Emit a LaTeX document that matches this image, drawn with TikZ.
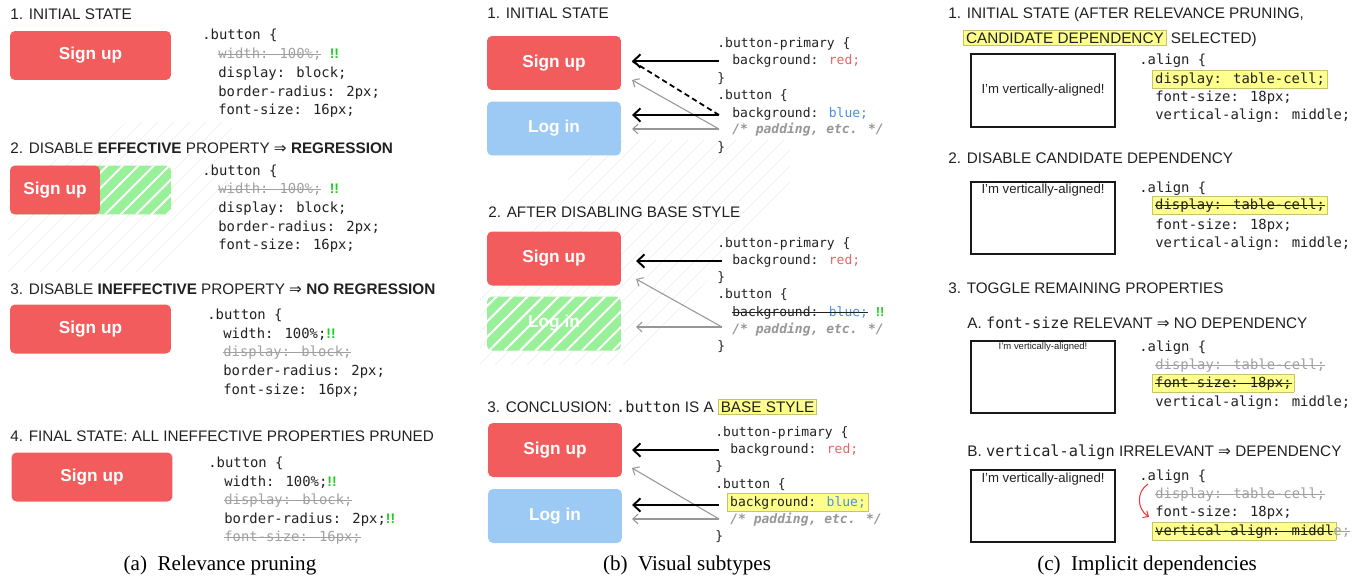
\documentclass[tikz,border=0pt]{standalone}
\usepackage{fontspec}
\setmainfont{Liberation Serif}
\newfontfamily\uisf{Liberation Sans}
\newfontfamily\codett{DejaVu Sans Mono}
\newfontfamily\symf{DejaVu Sans}
\usetikzlibrary{arrows.meta}

\definecolor{btnred}{RGB}{242,92,92}
\definecolor{btnblue}{RGB}{157,202,245}
\definecolor{hatchgreen}{RGB}{152,240,152}
\definecolor{hlyellow}{RGB}{255,255,140}
\definecolor{hlline}{RGB}{196,196,110}
\definecolor{okgreen}{RGB}{30,205,30}
\definecolor{cred}{RGB}{232,100,100}
\definecolor{cblue}{RGB}{74,144,226}
\definecolor{offgray}{RGB}{160,160,160}
\definecolor{arrgray}{RGB}{150,150,150}
\definecolor{deprd}{RGB}{230,60,60}

\newcommand{\strk}[1]{\sbox0{#1}\rlap{\usebox0}\rule[.25em]{\wd0}{.5pt}}
\newcommand{\ok}{{\uisf\bfseries\color{okgreen}!!}}
\newcommand{\imp}{{\symf ⇒}}
\newcommand{\hlt}[1]{{\setlength{\fboxsep}{1.2pt}\setlength{\fboxrule}{.4pt}\fcolorbox{hlline}{hlyellow}{#1}}}

\tikzset{
  ttl/.style={anchor=base west, inner sep=0, text=black!87, font=\uisf\fontsize{8.7}{10}\selectfont},
  code/.style={anchor=base west, inner sep=0, text=black!87, font=\codett\fontsize{7.9}{9}\selectfont},
  off/.style={code, text=offgray},
  cmt/.style={code, text=arrgray, font=\codett\bfseries\itshape\fontsize{7.9}{9}\selectfont},
  btn/.style={rounded corners=0.1cm, inner sep=0, text=white, font=\uisf\bfseries\fontsize{9.8}{11}\selectfont},
  wide/.style={minimum width=3.22cm, minimum height=0.98cm},
  tall/.style={minimum width=2.68cm, minimum height=1.08cm},
  hatched/.style={fill=hatchgreen, path picture={
      \foreach \k in {0,...,20}
        \draw[white, line width=1.2pt] ([xshift=\k*0.31cm-1.2cm]path picture bounding box.south west) -- ++(1.6cm,1.6cm);}},
  barrow/.style={line width=1.1pt, -{Straight Barb[length=4pt,width=7.5pt]}},
  garrow/.style={arrgray, line width=.6pt, -{Straight Barb[length=3pt,width=5.5pt]}},
  dep/.style={line width=1pt, dash pattern=on 3pt off 2pt},
  deparrow/.style={deprd, line width=.6pt, -{Straight Barb[length=2.5pt,width=4.5pt]}},
  valbox/.style={draw=black!90, line width=1.1pt},
  vtxt/.style={inner sep=0, text=black!87, font=\uisf\fontsize{7.5}{9}\selectfont},
  subcap/.style={anchor=base, inner sep=0, font=\fontsize{12}{14}\selectfont},
  faint/.style={black!7, line width=.35pt}
}

\begin{document}
\begin{tikzpicture}[x=0.02cm, y=-0.02cm]
\useasboundingbox (0,0) rectangle (1364,578);

%% faint background stripes
\begin{scope}
  \clip (8,272) -- (8,178) -- (128,122) -- (232,122) -- (232,196) -- (158,272) -- cycle;
  \foreach \k in {0,...,24} \draw[faint] (\k*16-180,300) -- ++(240,-240);
\end{scope}
\begin{scope}
  \clip (480,365) -- (480,290) -- (600,140) -- (790,140) -- (790,190) -- (630,365) -- cycle;
  \foreach \k in {0,...,34} \draw[faint] (\k*16+220,400) -- ++(270,-270);
\end{scope}

%%%% (a) relevance pruning
\node[ttl] (ta1) at (10,19) {1. INITIAL STATE};
\node[btn, wide, fill=btnred] (sua1) at (90.5,55.5) {Sign up};
\node[code] (ca1) at (202,39) {.button \{};
\node[off]  (ca1w) at (218,58) {\strk{width: 100\%;} \ok};
\node[code] (ca1d) at (218,77) {display: block;};
\node[code] (ca1b) at (218,96) {border-radius: 2px;};
\node[code] (ca1f) at (218,114) {font-size: 16px;};

\node[ttl] (ta2) at (10,153) {2. DISABLE \textbf{EFFECTIVE} PROPERTY \imp{} \textbf{REGRESSION}};
\node[btn, wide, hatched] (gra2) at (90.5,190) {};
\node[btn, fill=btnred, minimum width=1.8cm, minimum height=0.98cm] (sua2) at (55,190) {Sign up};
\node[code] (ca2) at (202,175) {.button \{};
\node[off]  (ca2w) at (218,193) {\strk{width: 100\%;} \ok};
\node[code] (ca2d) at (218,212) {display: block;};
\node[code] (ca2b) at (218,231) {border-radius: 2px;};
\node[code] (ca2f) at (218,249) {font-size: 16px;};

\node[ttl] (ta3) at (10,294) {3. DISABLE \textbf{INEFFECTIVE} PROPERTY \imp{} \textbf{NO REGRESSION}};
\node[btn, wide, fill=btnred] (sua3) at (90.5,329) {Sign up};
\node[code] (ca3) at (207,319) {.button \{};
\node[code] (ca3w) at (223,338) {width: 100\%;\ok};
\node[off]  (ca3d) at (223,356) {\strk{display: block;}};
\node[code] (ca3b) at (223,375) {border-radius: 2px;};
\node[code] (ca3f) at (223,394) {font-size: 16px;};

\node[ttl] (ta4) at (10,441) {4. FINAL STATE: ALL INEFFECTIVE PROPERTIES PRUNED};
\node[btn, wide, fill=btnred] (sua4) at (92,477) {Sign up};
\node[code] (ca4) at (208,467) {.button \{};
\node[code] (ca4w) at (224,486) {width: 100\%;\ok};
\node[off]  (ca4d) at (224,504) {\strk{display: block;}};
\node[code] (ca4b) at (224,523) {border-radius: 2px;\ok};
\node[off]  (ca4f) at (224,541) {\strk{font-size: 16px;}};

\node[subcap] (capa) at (220,570) {(a)\enspace Relevance pruning};

%%%% (b) visual subtypes
\begin{scope}[code/.append style={font=\codett\fontsize{7.4}{9}\selectfont},
              cmt/.append style={font=\codett\bfseries\itshape\fontsize{7.4}{9}\selectfont}]
\node[ttl] (tb1) at (487,18) {1. INITIAL STATE};
\node[btn, tall, fill=btnred] (sub1) at (554,63) {Sign up};
\node[btn, tall, fill=btnblue] (lib1) at (554,128.5) {Log in};
\node[code] (cb1p) at (717,47) {.button-primary \{};
\node[code] (cb1r) at (732,64) {background: \textcolor{cred}{red;}};
\node[code] (cb1e) at (717,82) {\}};
\node[code] (cb1b) at (717,99) {.button \{};
\node[code] (cb1u) at (732,117) {background: \textcolor{cblue}{blue;}};
\node[cmt]  (cb1c) at (732,133) {/* padding, etc. */};
\node[code] (cb1z) at (717,151) {\}};
\coordinate (s1red) at (719,61);   \coordinate (t1red) at (632,61);
\coordinate (s1blu) at (719,115);  \coordinate (t1blu) at (632,115);
\coordinate (s1pad) at (719,129);  \coordinate (t1pad) at (632,129);
\coordinate (t1top) at (632,80);
\draw[garrow] (s1pad) -- (t1top);
\draw[garrow] (s1pad) -- (t1pad);
\draw[dep] (s1blu) -- (t1red);
\draw[barrow] (s1red) -- (t1red);
\draw[barrow] (s1blu) -- (t1blu);

\node[ttl] (tb2) at (488,217) {2. AFTER DISABLING BASE STYLE};
\node[btn, tall, fill=btnred] (sub2) at (554,258.5) {Sign up};
\node[btn, tall, hatched] (lib2) at (554,323.5) {Log in};
\node[code] (cb2p) at (717,247) {.button-primary \{};
\node[code] (cb2r) at (732,264) {background: \textcolor{cred}{red;}};
\node[code] (cb2e) at (717,281) {\}};
\node[code] (cb2b) at (717,298) {.button \{};
\node[code] (cb2u) at (732,316) {\strk{background: \textcolor{cblue}{blue;}} \ok};
\node[cmt]  (cb2c) at (732,333) {/* padding, etc. */};
\node[code] (cb2z) at (717,350) {\}};
\coordinate (s2red) at (722,261);  \coordinate (t2red) at (636,261);
\coordinate (s2pad) at (722,327);  \coordinate (t2pad) at (636,327);
\coordinate (t2top) at (636,279);
\draw[garrow] (s2pad) -- (t2top);
\draw[garrow] (s2pad) -- (t2pad);
\draw[barrow] (s2red) -- (t2red);

\node[ttl] (tb3) at (487,412) {3. CONCLUSION: {\codett .button} IS A \hlt{BASE STYLE}};
\node[btn, tall, fill=btnred] (sub3) at (555,450) {Sign up};
\node[btn, tall, fill=btnblue] (lib3) at (555,516) {Log in};
\node[code] (cb3p) at (715,436) {.button-primary \{};
\node[code] (cb3r) at (730,453) {background: \textcolor{cred}{red;}};
\node[code] (cb3e) at (715,470) {\}};
\node[code] (cb3b) at (715,488) {.button \{};
\node[code] (cb3u) at (727,506) {\hlt{background: \textcolor{cblue}{blue;}}};
\node[cmt]  (cb3c) at (730,523) {/* padding, etc. */};
\node[code] (cb3z) at (715,540) {\}};
\coordinate (s3red) at (719,450);  \coordinate (t3red) at (632,450);
\coordinate (s3blu) at (719,505);  \coordinate (t3blu) at (632,505);
\coordinate (s3pad) at (719,519);  \coordinate (t3pad) at (632,519);
\coordinate (t3top) at (632,468);
\draw[garrow] (s3pad) -- (t3top);
\draw[garrow] (s3pad) -- (t3pad);
\draw[barrow] (s3red) -- (t3red);
\draw[barrow] (s3blu) -- (t3blu);
\end{scope}

\node[subcap] (capb) at (687,570) {(b)\enspace Visual subtypes};

%%%% (c) implicit dependencies
\node[ttl] (tc1) at (948,18) {1. INITIAL STATE (AFTER RELEVANCE PRUNING,};
\node[ttl] (tc1b) at (963,43) {\hlt{CANDIDATE DEPENDENCY} SELECTED)};
\draw[valbox] (971,54) rectangle node[vtxt] (vt1) {I’m vertically-aligned!} (1115,127);
\node[code] (cc1) at (1139,64) {.align \{};
\node[code] (cc1d) at (1152,83) {\hlt{display: table-cell;}};
\node[code] (cc1f) at (1155,101) {font-size: 18px;};
\node[code] (cc1v) at (1155,119) {vertical-align: middle;};

\node[ttl] (tc2) at (948,163) {2. DISABLE CANDIDATE DEPENDENCY};
\draw[valbox] (971,182) rectangle (1115,254);
\node[vtxt, anchor=base] (vt2) at (1043,193) {I’m vertically-aligned!};
\node[code] (cc2) at (1139,192) {.align \{};
\node[code] (cc2d) at (1152,209) {\hlt{\strk{display: table-cell;}}};
\node[code] (cc2f) at (1155,229) {font-size: 18px;};
\node[code] (cc2v) at (1155,247) {vertical-align: middle;};

\node[ttl] (tc3) at (948,293) {3. TOGGLE REMAINING PROPERTIES};

\node[ttl] (tcA) at (967,328) {A. {\codett font-size} RELEVANT \imp{} NO DEPENDENCY};
\draw[valbox] (971,341) rectangle (1115,413);
\node[vtxt, anchor=base, font=\uisf\fontsize{5.4}{6}\selectfont] (vtA) at (1043,349) {I’m vertically-aligned!};
\node[code] (ccA) at (1139,351) {.align \{};
\node[off]  (ccAd) at (1155,369) {\strk{display: table-cell;}};
\node[code] (ccAf) at (1152,387) {\hlt{\strk{font-size: 18px;}}};
\node[code] (ccAv) at (1155,406) {vertical-align: middle;};

\node[ttl] (tcB) at (967,456) {B. {\codett vertical-align} IRRELEVANT \imp{} DEPENDENCY};
\draw[valbox] (971,470) rectangle (1115,542);
\node[vtxt, anchor=base] (vtB) at (1043,482) {I’m vertically-aligned!};
\node[code] (ccB) at (1139,480) {.align \{};
\node[off]  (ccBd) at (1155,498) {\strk{display: table-cell;}};
\node[code] (ccBf) at (1155,516) {font-size: 18px;};
\node[code] (ccBv) at (1152,535) {\hlt{\strk{vertical-align: middl}}\kern-1.6pt\textcolor{offgray}{\strk{e;}}};
\coordinate (rA) at (1148,484);
\coordinate (rB) at (1149,517);
\draw[deparrow] (rA) .. controls (1136,492) and (1137,509) .. (rB);

\node[subcap] (capc) at (1147,570) {(c)\enspace Implicit dependencies};
\end{tikzpicture}
\end{document}
